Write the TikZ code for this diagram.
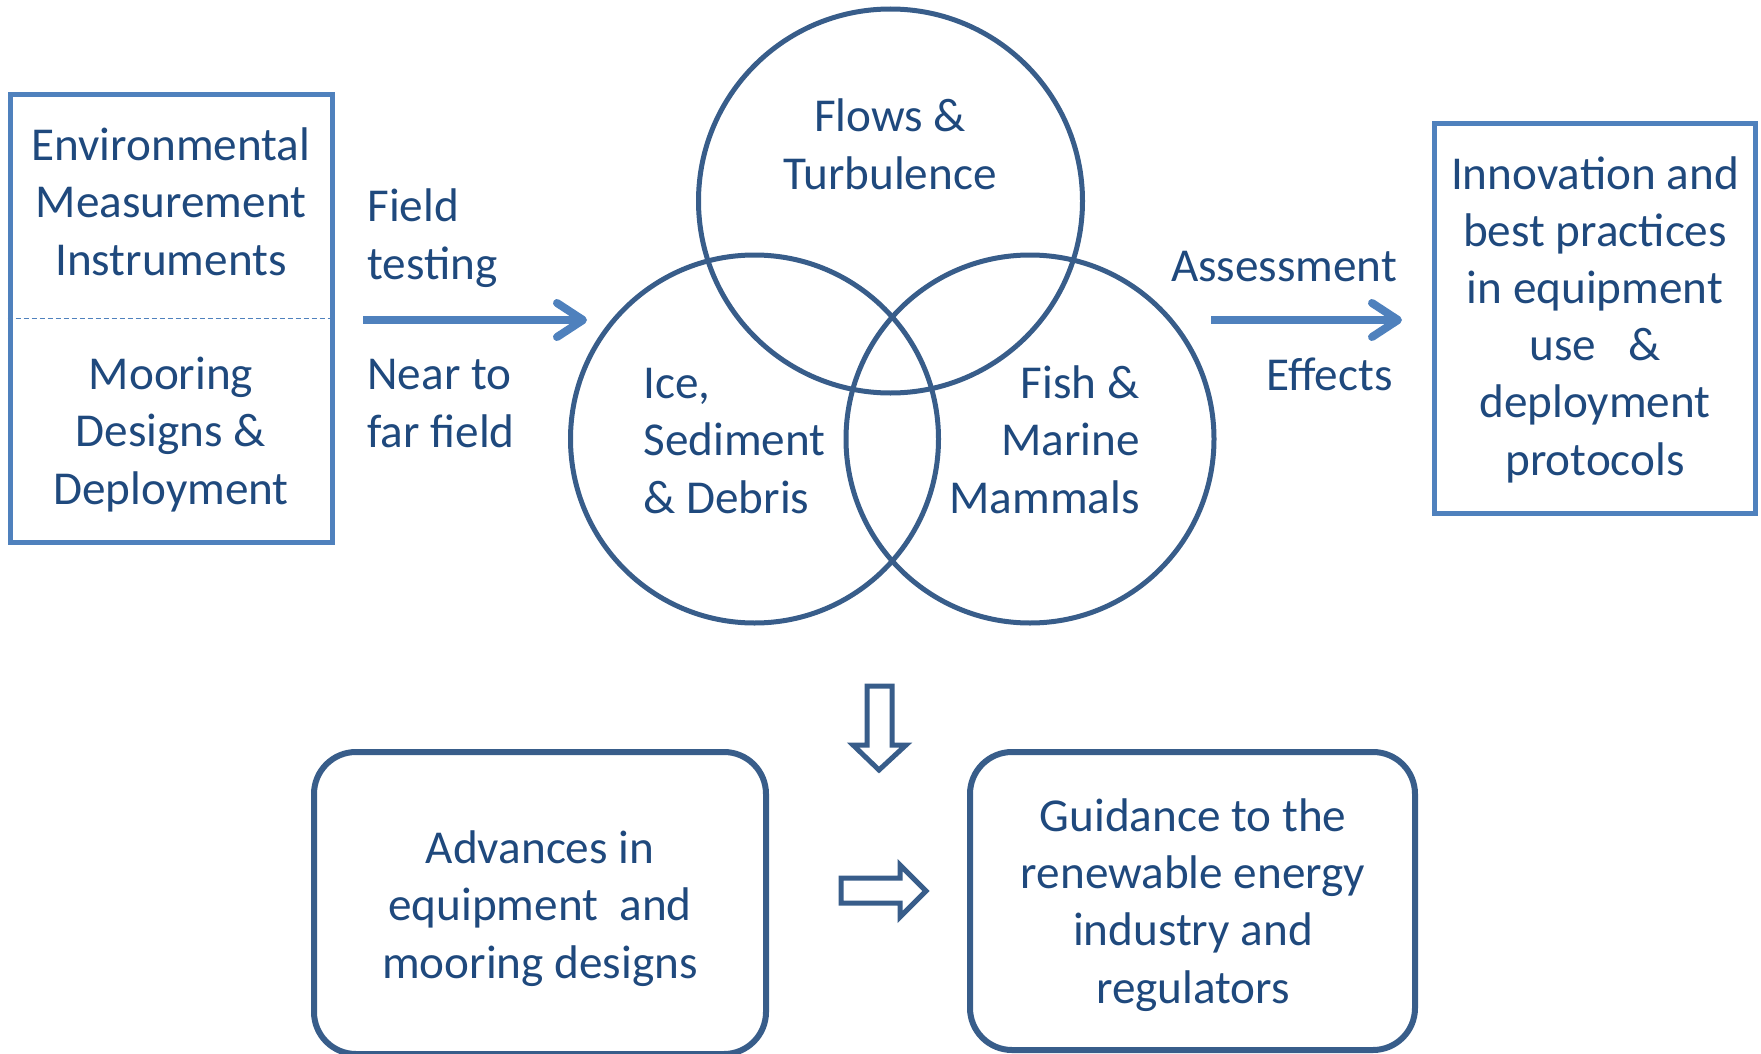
\documentclass[tikz,border=0pt]{standalone}
\usepackage{fontspec}
\setmainfont{Carlito}
\usetikzlibrary{arrows.meta}
\definecolor{boxblue}{HTML}{4F81BD}
\definecolor{ringblue}{HTML}{385D8A}
\definecolor{textblue}{HTML}{1F497D}
\tikzset{font={\fontsize{23.6pt}{28.6pt}\selectfont}}
\tikzset{
  txt/.style={inner sep=0pt, align=center, text=textblue},
  sharpbox/.style={draw=boxblue, line width=2.5pt, inner sep=0pt},
  ring/.style={circle, draw=ringblue, line width=2.5pt, inner sep=0pt},
  softbox/.style={draw=ringblue, line width=3pt, rounded corners=21pt, inner sep=0pt},
  flowarrow/.style={draw=boxblue, line width=4pt, -{Straight Barb[round,length=13pt,width=17pt]}},
  hollow/.style={draw=ringblue, line width=2.5pt, fill=white}
}

\begin{document}
\begin{tikzpicture}[x=0.5pt,y=-0.5pt]
  \useasboundingbox (0,0) rectangle (1761,1054);
  %outer boxes
  \node[sharpbox, minimum width=161pt, minimum height=223.5pt] (instr) at (171,318.5) {};
  \draw[boxblue, line width=0.6pt, dash pattern=on 2.5pt off 1.5pt] (instr.west) -- (instr.east);
  \node[sharpbox, minimum width=160.5pt, minimum height=194.5pt] (innov) at (1594.5,318.5) {};
  \node[softbox, minimum width=226pt, minimum height=151pt] (adv) at (540,903) {};
  \node[softbox, minimum width=222.5pt, minimum height=149pt] (guide) at (1192.5,901) {};
  %circles
  \node[ring, minimum size=192pt] (flows) at (890.5,201) {};
  \node[ring, minimum size=184pt] (ice) at (754.5,439) {};
  \node[ring, minimum size=184pt] (fish) at (1030,439) {};
  %labels (base = last line)
  \node[txt, anchor=base] (instrtop) at (171,275) {Environmental\\Measurement\\Instruments};
  \node[txt, anchor=base] (instrbot) at (171,504) {Mooring\\Designs \&\\Deployment};
  \node[txt, anchor=base west, align=left] (field) at (367,279) {Field\\testing};
  \node[txt, anchor=base west, align=left] (near) at (367,447) {Near to\\far field};
  \node[txt, anchor=base] (flowtxt) at (890,189) {Flows \&\\Turbulence};
  \node[txt, anchor=base west, align=left] (icetxt) at (643,513) {Ice,\\Sediment\\\& Debris};
  \node[txt, anchor=base east, align=right] (fishtxt) at (1140,513) {Fish \&\\Marine\\Mammals};
  \node[txt, anchor=base] (assess) at (1284,281) {Assessment};
  \node[txt, anchor=base east] (effects) at (1393,390) {Effects};
  \node[txt, anchor=base] (innovtxt) at (1595,475) {Innovation and\\best practices\\in equipment\\use \ \ \&\\deployment\\protocols};
  \node[txt, anchor=base] (advtxt) at (540,978) {Advances in\\equipment \ and\\mooring designs};
  \node[txt, anchor=base] (guidetxt) at (1193,1003) {Guidance to the\\renewable energy\\industry and\\regulators};
  %arrows
  \coordinate (ftstart) at (363,320);
  \coordinate (ftend) at (587,320);
  \coordinate (asstart) at (1211,320);
  \coordinate (asend) at (1402,320);
  \draw[flowarrow] (ftstart) -- (ftend);
  \draw[flowarrow] (asstart) -- (asend);
  %hollow arrows
  \draw[hollow] (867,686) -- (892,686) -- (892,745) -- (906,745) -- (879,770) -- (853,745) -- (867,745) -- cycle;
  \draw[hollow] (841,878) -- (900,878) -- (900,865) -- (926,891) -- (900,917) -- (900,903) -- (841,903) -- cycle;
\end{tikzpicture}
\end{document}
